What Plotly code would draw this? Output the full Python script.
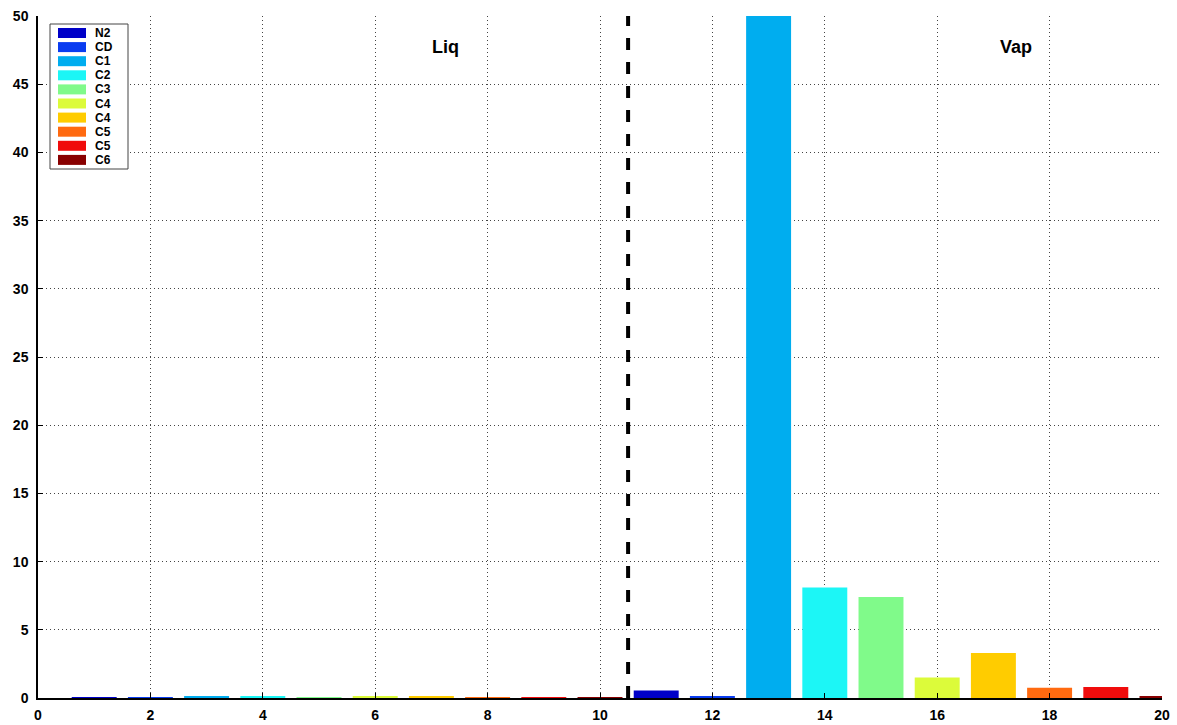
import plotly.graph_objects as go

components = ["N2", "CD", "C1", "C2", "C3", "C4", "C4", "C5", "C5", "C6"]
colors = ["#0000c8", "#0a3cf0", "#00adef", "#1cf6f6", "#80fa8a",
          "#dcfb3a", "#ffcc00", "#ff6a10", "#f00c0c", "#880000"]
liq_pos = [1, 2, 3, 4, 5, 6, 7, 8, 9, 10]
vap_pos = [11, 12, 13, 14, 15, 16, 17, 18, 19, 20]
liq_vals = [0.02, 0.03, 0.08, 0.1, 0.06, 0.08, 0.08, 0.06, 0.06, 0.04]
vap_vals = [0.55, 0.15, 62.0, 8.1, 7.4, 1.5, 3.3, 0.75, 0.8, 0.15]
x_ticks = [0, 2, 4, 6, 8, 10, 12, 14, 16, 18, 20]
y_ticks = [0, 5, 10, 15, 20, 25, 30, 35, 40, 45, 50]
divider_x = 10.5

W, H = 1177, 725
ML, MR, MT, MB = 38, 15, 16, 27
PW, PH = W - ML - MR, H - MT - MB


def px(xp):
    return (xp - ML) / PW


def py(yp):
    return (H - MB - yp) / PH


fig = go.Figure()
for i, name in enumerate(components):
    fig.add_trace(go.Bar(
        x=[liq_pos[i], vap_pos[i]], y=[liq_vals[i], vap_vals[i]],
        name=name, marker=dict(color=colors[i], line=dict(width=0)),
        width=0.8, showlegend=False))

fig.add_shape(type="line", x0=divider_x, x1=divider_x, y0=0, y1=50,
              xref="x", yref="y", line=dict(color="black", width=4, dash="dash"))
fig.add_annotation(x=7.25, y=47.75, text="<b>Liq</b>", showarrow=False,
                   font=dict(size=18, color="black", family="Liberation Sans"))
fig.add_annotation(x=17.4, y=47.75, text="<b>Vap</b>", showarrow=False,
                   font=dict(size=18, color="black", family="Liberation Sans"))

# manual legend (compact, MATLAB-like)
fig.add_shape(type="rect", xref="paper", yref="paper",
              x0=px(50), x1=px(128), y0=py(169), y1=py(24),
              fillcolor="white", line=dict(color="#444444", width=1), layer="above")
for i, name in enumerate(components):
    yc = 33 + 14.1 * i
    fig.add_shape(type="rect", xref="paper", yref="paper",
                  x0=px(58), x1=px(86), y0=py(yc + 5), y1=py(yc - 5),
                  fillcolor=colors[i], line=dict(width=0), layer="above")
    fig.add_annotation(xref="paper", yref="paper", x=px(93), y=py(yc),
                       xanchor="left", yanchor="middle", showarrow=False,
                       text="<b>%s</b>" % name,
                       font=dict(size=12, color="black", family="Liberation Sans"))

axis_common = dict(showgrid=True, gridcolor="#444444", griddash="1px,3px", gridwidth=1,
                   ticks="inside", ticklen=5, tickcolor="black",
                   showline=True, linecolor="black", linewidth=1.5,
                   zeroline=False, automargin=False,
                   tickfont=dict(size=14, family="Liberation Sans", color="black"))

fig.update_layout(
    width=W, height=H,
    margin=dict(l=ML, r=MR, t=MT, b=MB),
    paper_bgcolor="white", plot_bgcolor="white",
    barmode="overlay",
    showlegend=False,
    xaxis=dict(range=[0, 20], tickvals=x_ticks, ticklabelstandoff=3,
               ticktext=["<b>%d</b>" % v for v in x_ticks], **axis_common),
    yaxis=dict(range=[0, 50], tickvals=y_ticks, ticklabelstandoff=5,
               ticktext=["<b>%d</b>" % v for v in y_ticks], **axis_common),
)

fig.write_html("out.html", config={"displayModeBar": False},
               post_script="document.body.style.margin='0';document.body.style.overflow='hidden';")
